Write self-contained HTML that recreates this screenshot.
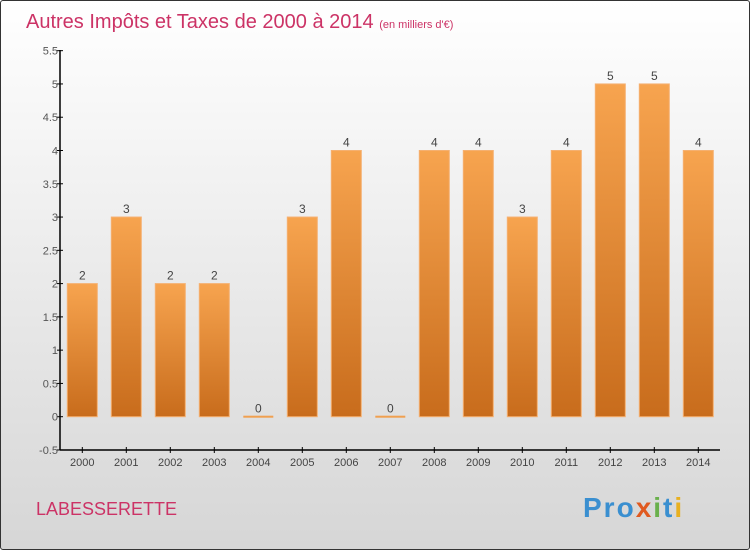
<!DOCTYPE html>
<html><head><meta charset="utf-8"><style>
body{margin:0;width:750px;height:550px;overflow:hidden;font-family:"Liberation Sans",sans-serif}
#wrap{position:absolute;left:0;top:0;width:748px;height:548px;border:1px solid #333;background:linear-gradient(#ffffff,#d6d6d6);border-radius:3px}
</style></head><body>
<div id="wrap"></div>
<svg id="chart" width="750" height="550" style="position:absolute;left:0;top:0">
<defs><linearGradient id="bg" x1="0" y1="0" x2="0" y2="1"><stop offset="0" stop-color="#f7a44f"/><stop offset="1" stop-color="#c86c1c"/></linearGradient></defs>
<text x="26" y="28" font-size="20" fill="#cc3366">Autres Impôts et Taxes de 2000 à 2014 <tspan font-size="11">(en milliers d'€)</tspan></text>
<text x="36" y="515" font-size="18" fill="#cc3366">LABESSERETTE</text>
<text x="583" y="517" font-size="28" font-weight="bold" letter-spacing="2" fill="#3a8fd0">Pro<tspan fill="#e05a20">x</tspan><tspan fill="#6ab04c">i</tspan>t<tspan fill="#e8b020">i</tspan></text>
<g id="g"></g>
</svg>
<script>
const years=["2000","2001","2002","2003","2004","2005","2006","2007","2008","2009","2010","2011","2012","2013","2014"];
const values=[2,3,2,2,0,3,4,0,4,4,3,4,5,5,4];
const yTicks=[-0.5,0,0.5,1,1.5,2,2.5,3,3.5,4,4.5,5,5.5];
const tickLabels=["-0.5","0","0.5","1","1.5","2","2.5","3","3.5","4","4.5","5","5.5"];
const NS="http://www.w3.org/2000/svg";
const g=document.getElementById('g');
const y=v=>416.7-v*66.55;
const x=i=>82.3+i*44;
function mk(t,a){const e=document.createElementNS(NS,t);for(const k in a)e.setAttribute(k,a[k]);g.appendChild(e);return e;}
let ax=mk('line',{x1:60,y1:50,x2:60,y2:450,stroke:'#000','stroke-width':1.5});


let bx=mk('line',{x1:60,y1:450,x2:720,y2:450,stroke:'#000','stroke-width':1.5});


yTicks.forEach((v,i)=>{
 mk('line',{x1:57,x2:63,y1:y(v),y2:y(v),stroke:'#000'});
 const t=mk('text',{x:58,y:y(v)+4,'font-size':11,'text-anchor':'end',fill:'#555'});t.textContent=tickLabels[i];
 
 
});
years.forEach((yr,i)=>{
 mk('line',{x1:x(i),x2:x(i),y1:447,y2:453,stroke:'#000'});
 const t=mk('text',{x:x(i),y:466,'font-size':11,'text-anchor':'middle',fill:'#444'});t.textContent=yr;
 
 
 const v=values[i];
 let r;
 if(v===0){r=mk('rect',{x:x(i)-15,y:y(0)-1,width:30,height:2,fill:'#f0a050'});}
 else r=mk('rect',{x:x(i)-15,y:y(v),width:30,height:y(0)-y(v),fill:'url(#bg)',stroke:'#f5b070','stroke-width':1});
 
 
 const l=mk('text',{x:x(i),y:y(v)-4,'font-size':12,'text-anchor':'middle',fill:'#444'});l.textContent=v;
 
 
});
</script>
</body></html>
